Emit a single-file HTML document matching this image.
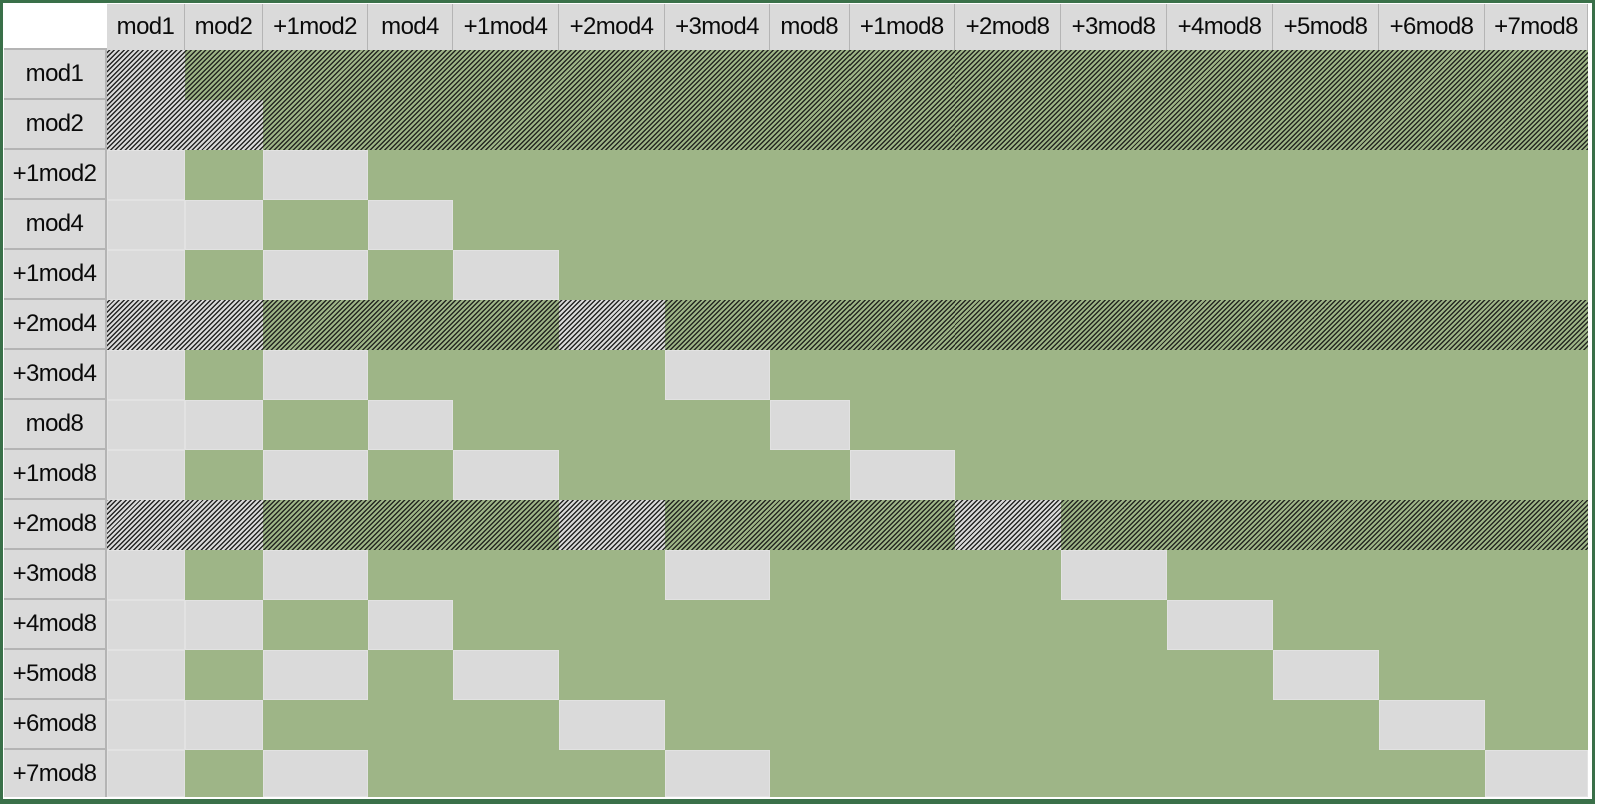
<!DOCTYPE html>
<html><head><meta charset="utf-8"><style>
html,body{margin:0;padding:0;background:#fff;width:1600px;height:804px;overflow:hidden}
.frame{position:absolute;left:0;top:0;width:1595px;height:804px;box-sizing:border-box;border:3px solid #3a7049;border-bottom-width:5px;background:#fff}
.grid{position:absolute;left:4px;top:4px;display:grid;
grid-template-columns:103px 78px 78px 105px 85px 106px 106px 105px 79.5px 105.5px 106px 106px 106px 106px 106px 103px;
grid-template-rows:46px repeat(14,50px) 47px;}
.grid div{box-sizing:border-box}
.c{background:#fff;border-bottom:2px solid #b4b4b4}
.h{background:#dadada;border-right:1.5px solid #b4b4b4;font:24px "Liberation Sans",sans-serif;color:#0a0a0a;display:flex;align-items:center;justify-content:center;white-space:nowrap;letter-spacing:-0.6px}
.t{border-bottom:0}
.r{border-bottom:2px solid #b4b4b4;border-right:2px solid #b4b4b4}
.g{background:#9eb587}
.e{background:#dadada;border:1px solid #e2e2e2}
.G{background:repeating-linear-gradient(135deg,#252822 0 1.4px,#9eb587 1.4px 3.4px);background-attachment:fixed}
.E{background:repeating-linear-gradient(135deg,#252525 0 1.4px,#dadada 1.4px 3.4px);background-attachment:fixed}
</style></head><body>
<div class="frame"></div>
<div class="grid">
<div class="c"></div><div class="h t">mod1</div><div class="h t">mod2</div><div class="h t">+1mod2</div><div class="h t">mod4</div><div class="h t">+1mod4</div><div class="h t">+2mod4</div><div class="h t">+3mod4</div><div class="h t">mod8</div><div class="h t">+1mod8</div><div class="h t">+2mod8</div><div class="h t">+3mod8</div><div class="h t">+4mod8</div><div class="h t">+5mod8</div><div class="h t">+6mod8</div><div class="h t">+7mod8</div>

<div class="h r">mod1</div><div class="E"></div><div class="G"></div><div class="G"></div><div class="G"></div><div class="G"></div><div class="G"></div><div class="G"></div><div class="G"></div><div class="G"></div><div class="G"></div><div class="G"></div><div class="G"></div><div class="G"></div><div class="G"></div><div class="G"></div>

<div class="h r">mod2</div><div class="E"></div><div class="E"></div><div class="G"></div><div class="G"></div><div class="G"></div><div class="G"></div><div class="G"></div><div class="G"></div><div class="G"></div><div class="G"></div><div class="G"></div><div class="G"></div><div class="G"></div><div class="G"></div><div class="G"></div>

<div class="h r">+1mod2</div><div class="e"></div><div class="g"></div><div class="e"></div><div class="g"></div><div class="g"></div><div class="g"></div><div class="g"></div><div class="g"></div><div class="g"></div><div class="g"></div><div class="g"></div><div class="g"></div><div class="g"></div><div class="g"></div><div class="g"></div>

<div class="h r">mod4</div><div class="e"></div><div class="e"></div><div class="g"></div><div class="e"></div><div class="g"></div><div class="g"></div><div class="g"></div><div class="g"></div><div class="g"></div><div class="g"></div><div class="g"></div><div class="g"></div><div class="g"></div><div class="g"></div><div class="g"></div>

<div class="h r">+1mod4</div><div class="e"></div><div class="g"></div><div class="e"></div><div class="g"></div><div class="e"></div><div class="g"></div><div class="g"></div><div class="g"></div><div class="g"></div><div class="g"></div><div class="g"></div><div class="g"></div><div class="g"></div><div class="g"></div><div class="g"></div>

<div class="h r">+2mod4</div><div class="E"></div><div class="E"></div><div class="G"></div><div class="G"></div><div class="G"></div><div class="E"></div><div class="G"></div><div class="G"></div><div class="G"></div><div class="G"></div><div class="G"></div><div class="G"></div><div class="G"></div><div class="G"></div><div class="G"></div>

<div class="h r">+3mod4</div><div class="e"></div><div class="g"></div><div class="e"></div><div class="g"></div><div class="g"></div><div class="g"></div><div class="e"></div><div class="g"></div><div class="g"></div><div class="g"></div><div class="g"></div><div class="g"></div><div class="g"></div><div class="g"></div><div class="g"></div>

<div class="h r">mod8</div><div class="e"></div><div class="e"></div><div class="g"></div><div class="e"></div><div class="g"></div><div class="g"></div><div class="g"></div><div class="e"></div><div class="g"></div><div class="g"></div><div class="g"></div><div class="g"></div><div class="g"></div><div class="g"></div><div class="g"></div>

<div class="h r">+1mod8</div><div class="e"></div><div class="g"></div><div class="e"></div><div class="g"></div><div class="e"></div><div class="g"></div><div class="g"></div><div class="g"></div><div class="e"></div><div class="g"></div><div class="g"></div><div class="g"></div><div class="g"></div><div class="g"></div><div class="g"></div>

<div class="h r">+2mod8</div><div class="E"></div><div class="E"></div><div class="G"></div><div class="G"></div><div class="G"></div><div class="E"></div><div class="G"></div><div class="G"></div><div class="G"></div><div class="E"></div><div class="G"></div><div class="G"></div><div class="G"></div><div class="G"></div><div class="G"></div>

<div class="h r">+3mod8</div><div class="e"></div><div class="g"></div><div class="e"></div><div class="g"></div><div class="g"></div><div class="g"></div><div class="e"></div><div class="g"></div><div class="g"></div><div class="g"></div><div class="e"></div><div class="g"></div><div class="g"></div><div class="g"></div><div class="g"></div>

<div class="h r">+4mod8</div><div class="e"></div><div class="e"></div><div class="g"></div><div class="e"></div><div class="g"></div><div class="g"></div><div class="g"></div><div class="g"></div><div class="g"></div><div class="g"></div><div class="g"></div><div class="e"></div><div class="g"></div><div class="g"></div><div class="g"></div>

<div class="h r">+5mod8</div><div class="e"></div><div class="g"></div><div class="e"></div><div class="g"></div><div class="e"></div><div class="g"></div><div class="g"></div><div class="g"></div><div class="g"></div><div class="g"></div><div class="g"></div><div class="g"></div><div class="e"></div><div class="g"></div><div class="g"></div>

<div class="h r">+6mod8</div><div class="e"></div><div class="e"></div><div class="g"></div><div class="g"></div><div class="g"></div><div class="e"></div><div class="g"></div><div class="g"></div><div class="g"></div><div class="g"></div><div class="g"></div><div class="g"></div><div class="g"></div><div class="e"></div><div class="g"></div>

<div class="h r" style="border-bottom:0">+7mod8</div><div class="e"></div><div class="g"></div><div class="e"></div><div class="g"></div><div class="g"></div><div class="g"></div><div class="e"></div><div class="g"></div><div class="g"></div><div class="g"></div><div class="g"></div><div class="g"></div><div class="g"></div><div class="g"></div><div class="e"></div>
</div>
</body></html>
